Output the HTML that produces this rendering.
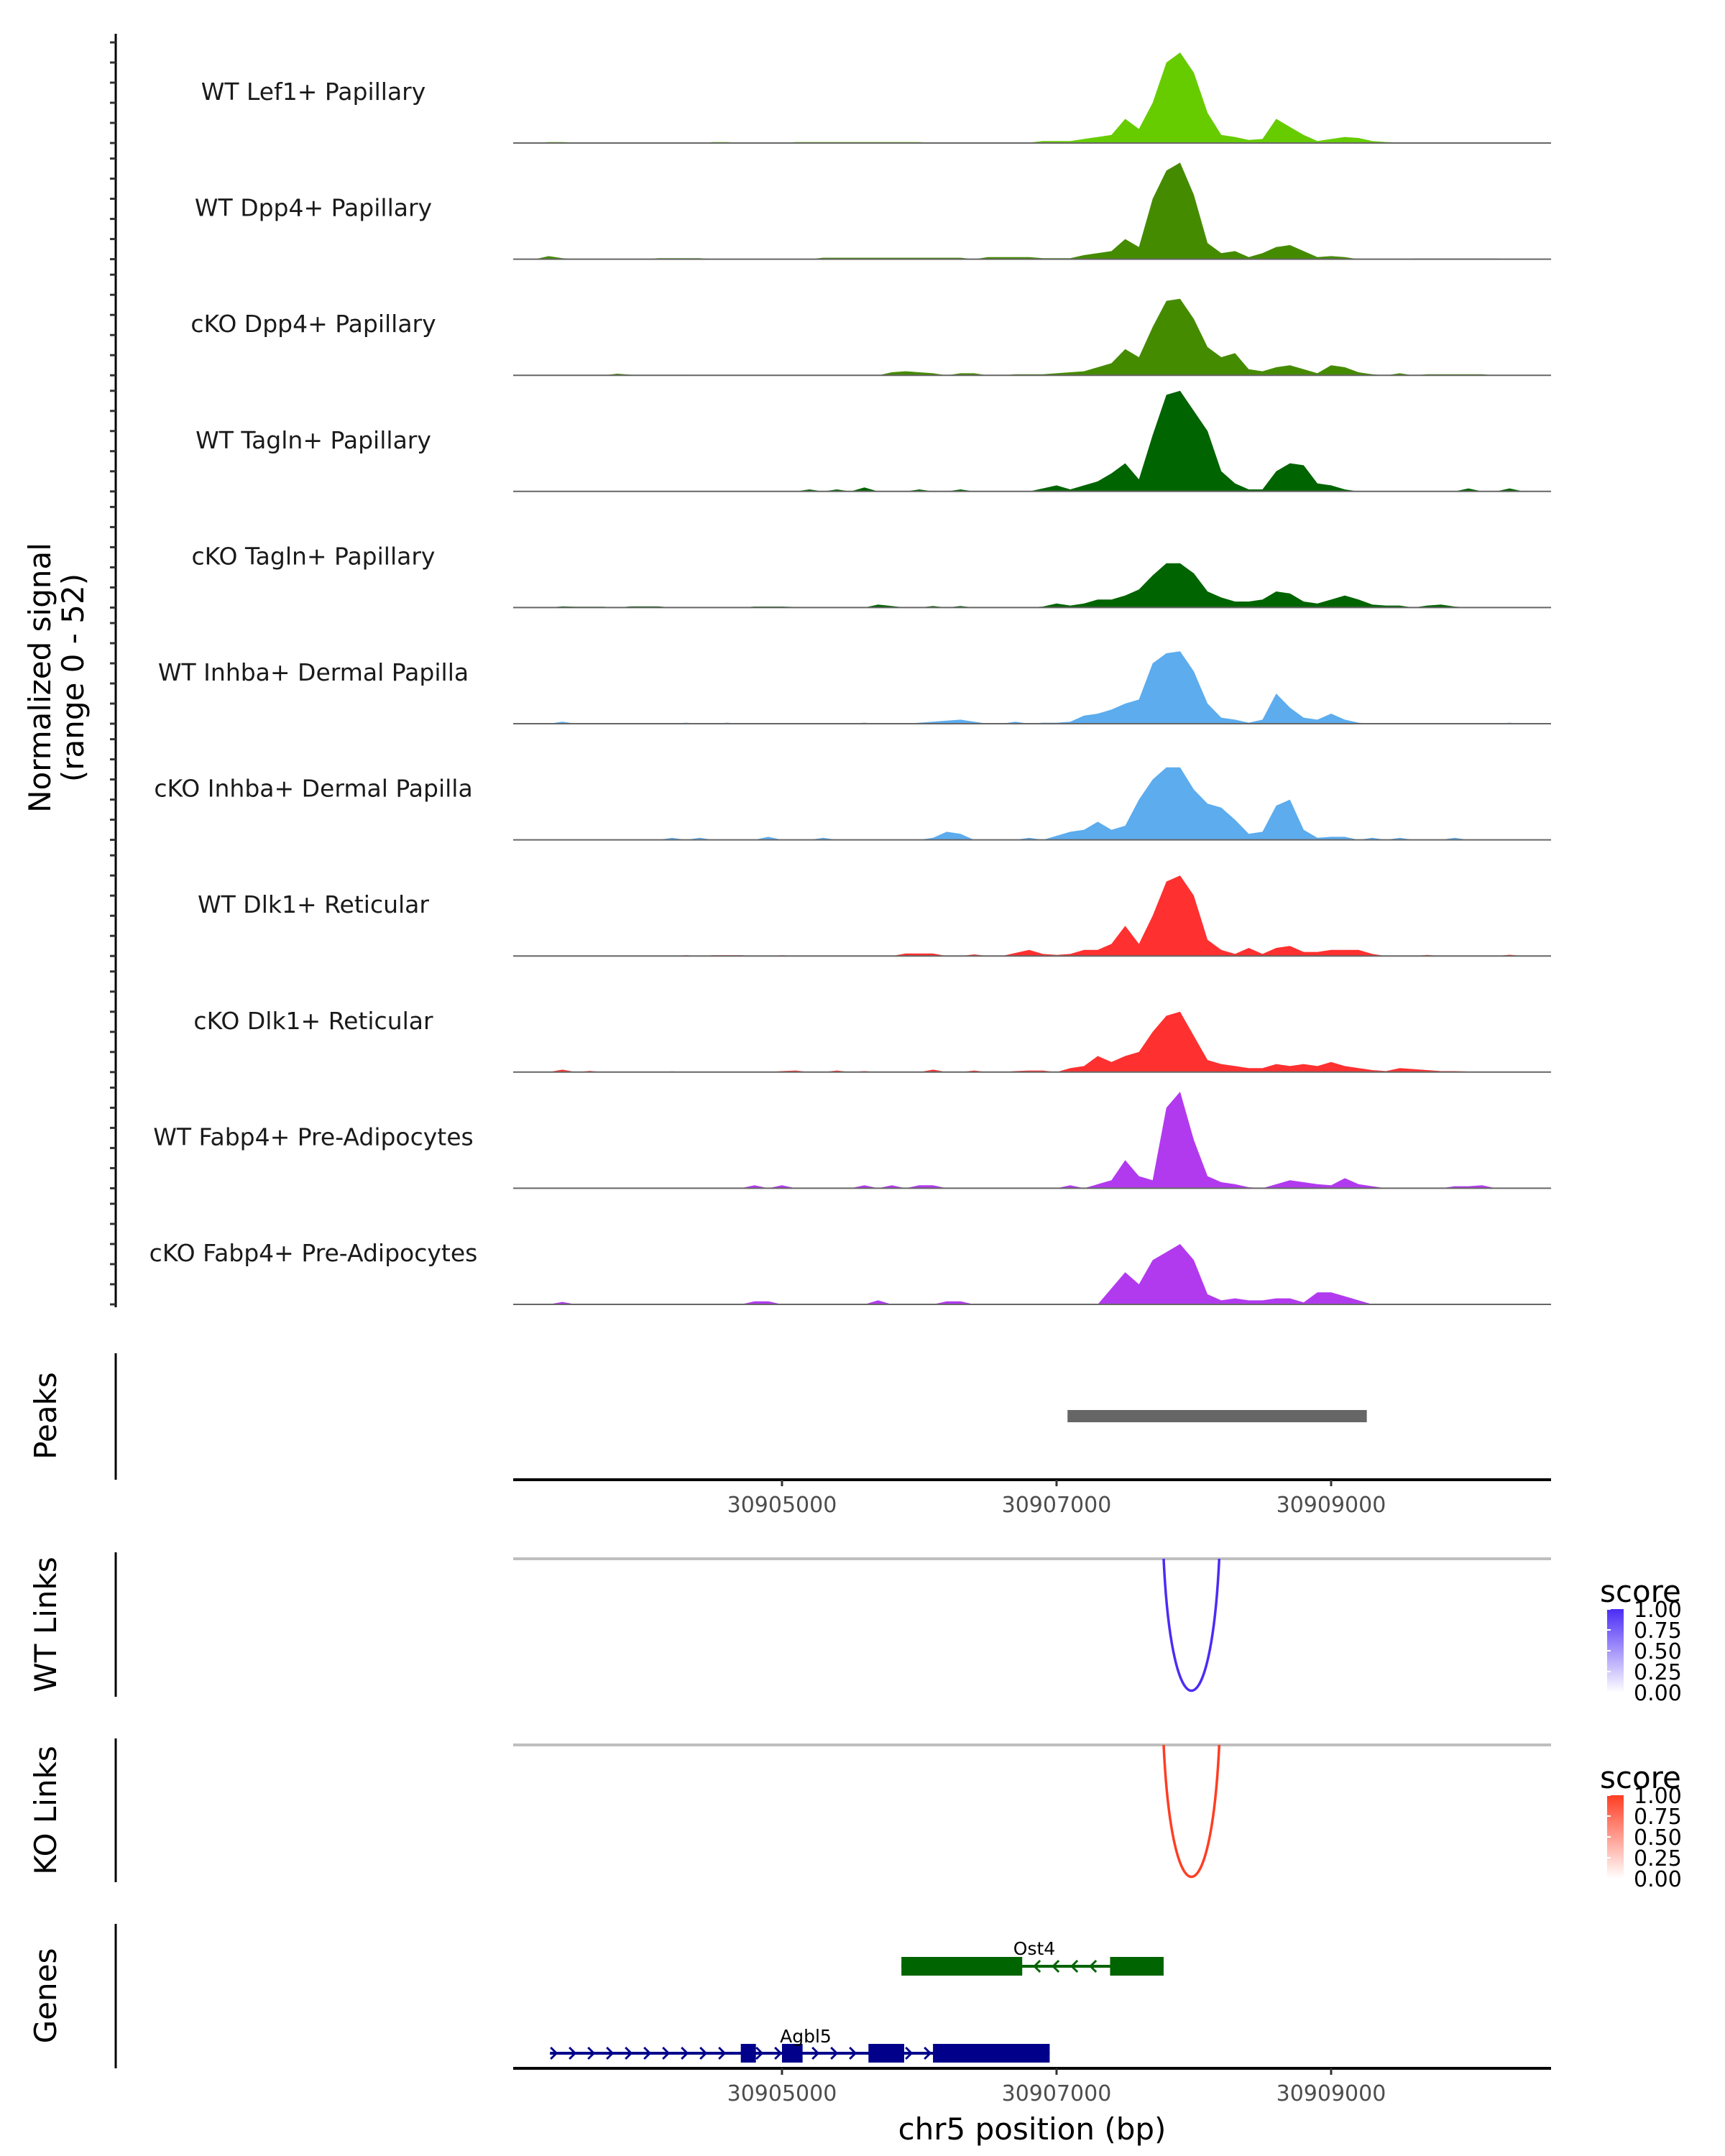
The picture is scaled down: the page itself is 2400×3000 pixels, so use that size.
<!DOCTYPE html>
<html><head><meta charset="utf-8"><style>
html,body{margin:0;padding:0;background:#fff;}
svg{display:block;font-family:"DejaVu Sans","Liberation Sans",sans-serif;}
</style></head><body>
<svg id="chart" width="2400" height="3000" viewBox="0 0 2400 3000" xmlns="http://www.w3.org/2000/svg">
<g id="tracks"></g>
<g id="lower"></g>
</svg>
<script>
// ---- data ----
const binStart = 30903100, binStep = 100;
const trackNames = ["WT Lef1+ Papillary","WT Dpp4+ Papillary","cKO Dpp4+ Papillary","WT Tagln+ Papillary","cKO Tagln+ Papillary","WT Inhba+ Dermal Papilla","cKO Inhba+ Dermal Papilla","WT Dlk1+ Reticular","cKO Dlk1+ Reticular","WT Fabp4+ Pre-Adipocytes","cKO Fabp4+ Pre-Adipocytes"];
const trackColors = ["#66cc00","#458b00","#458b00","#006400","#006400","#5cacee","#5cacee","#ff3030","#ff3030","#b23aee","#b23aee"];
const wtLef1 = [0,0,0.5,0.5,0.2,0.2,0.2,0.2,0.2,0.2, 0.2,0.2,0,0,0.5,0.5,0,0,0,0, 0.5,0.5,0.5,0.5,0.5,0.5,0.5,0.5,0.5,0.5, 0,0.2,0.2,0.2,0.2,0.2,0.2,0.2,1,1, 1,2,3,4,12,7,20,40,45,35, 15,4,3,1.5,2,12,8,4,1,2, 3,2.5,1,0.5,0.3,0.3,0.3,0.3,0.3,0.3, 0.3,0,0,0,0];
const wtDpp4 = [0,0,1.5,0.5,0,0,0,0,0,0, 0.5,0.5,0.5,0.5,0,0,0,0,0,0, 0,0,0.7,0.7,0.7,0.7,0.7,0.7,0.7,0.7, 0.7,0.7,0.7,0,1,1,1,1,0.5,0.5, 0.5,2,3,4,10,6,30,44,48,32, 8,3,4,1,3,6,7,4,1,1.5, 1,0,0,0,0,0.3,0.3,0.3,0.3,0.3, 0.3,0.3,0,0,0];
const koDpp4 = [0,0,0,0,0,0,0,0.8,0.3,0, 0,0,0.3,0,0,0,0,0,0,0, 0,0,0,0,0,0,0,1.5,2,1.5, 1,0,1,1,0,0,0.5,0.5,0.5,1, 1.5,2,4,6,13,9,24,37,38,28, 14,9,11,3,2,4,5,3,1,5, 4,1.5,0.5,0,1,0,0.5,0.5,0.5,0.5, 0.5,0,0,0,0];
const wtTagln = [0,0,0,0,0,0,0,0,0,0, 0,0,0,0,0,0,0,0,0,0, 0,1,0,1,0,2,0,0,0,1, 0,0,1,0,0,0,0,0,1.5,3, 1,3,5,9,14,6,28,48,50,40, 30,10,4,1,1,10,14,13,4,3, 1,0,0,0,0,0,0,0,0,1.5, 0,0,1.5,0,0];
const koTagln = [0,0,0,0.6,0.4,0.4,0.4,0,0.6,0.6, 0.6,0,0,0,0,0,0,0.5,0.5,0.5, 0.3,0.3,0,0,0,0,1.5,0.8,0,0, 0.8,0,0.8,0,0,0,0,0,0.5,2, 1,2,4,4,6,9,16,22,22,17, 8,5,3,3,4,8,7,3,2,4, 6,4,1.5,1,1,0,1,1.5,0.5,0, 0,0,0,0,0];
const wtInhba = [0,0,0,1,0,0,0,0,0,0, 0,0,0.5,0,0,0.5,0,0,0,0, 0,0,0,0,0,0.5,0,0,0,0.5, 1,1.5,2,1,0,0,1,0,0.5,0.5, 1,4,5,7,10,12,30,35,36,26, 10,3,2,0.5,2,15,8,3,2,5, 2,0.5,0,0,0,0,0,0,0,0, 0,0,0.5,0,0];
const koInhba = [0,0,0,0,0,0,0,0,0,0, 0,1,0,1,0,0,0,0,1.5,0, 0,0,1,0,0,0,0,0,0,0, 1,4,3,0,0,0,0,1,0,2, 4,5,9,5,7,20,30,36,36,25, 18,16,10,3,4,17,20,5,1,1.5, 1.5,0,1,0,1,0,0,0,1,0, 0,0,0,0,0];
const wtDlk1 = [0,0,0,0,0,0,0,0,0,0, 0,0,0.4,0,0.4,0.4,0.4,0,0,0.4, 0,0,0,0,0,0,0,0,1.2,1.2, 1.2,0,0,0.8,0,0,1.5,3,1,0.5, 1,3,3,6,15,6,20,37,40,30, 8,3,1,4,1,4,5,2,2,3, 3,3,1,0,0,0,0.5,0,0,0, 0,0,0.6,0,0];
const koDlk1 = [0,0,0,1.2,0,0.6,0,0,0,0, 0,0.4,0,0,0.3,0,0,0,0,0.5, 0.8,0,0,0.8,0,0.5,0,0,0,0, 1.2,0,0,0.8,0,0,0.5,0.8,0.8,0, 2,3,8,5,8,10,20,28,30,18, 6,4,3,2,2,4,3,4,3,5, 3,2,1,0.5,2,1.5,1,0.5,0.5,0.3, 0,0,0,0,0];
const wtFabp4 = [0,0,0,0,0,0,0,0,0,0, 0,0,0,0,0,0,0,1.5,0,1.5, 0,0,0,0,0,1.5,0,1.5,0,1.5, 1.5,0,0,0,0,0,0,0,0,0, 1.5,0,2,4,14,6,4,40,48,24, 6,3,2,0.5,0,2,4,3,2,1.5, 5,2,1,0,0,0,0,0,1,1, 1.5,0,0,0,0];
const koFabp4 = [0,0,0,1.2,0,0,0,0,0,0, 0,0,0,0,0,0,0,1.5,1.5,0, 0,0,0,0,0,0,2,0,0,0, 0,1.5,1.5,0,0,0,0,0,0,0, 0,0,0,8,16,10,22,26,30,22, 5,2,3,2,2,3,3,1,6,6, 4,2,0,0,0,0,0,0,0,0, 0,0,0,0,0];
const trackValues = [wtLef1,wtDpp4,koDpp4,wtTagln,koTagln,wtInhba,koInhba,wtDlk1,koDlk1,wtFabp4,koFabp4];
const yTickValues = [0,10,20,30,40,50];
const xTicks = [30905000,30907000,30909000];
const peakStarts = [30907080];
const peakEnds = [30909260];
const wtLinkStart = [30907780], wtLinkEnd = [30908185], wtLinkScore = [0.85];
const koLinkStart = [30907780], koLinkEnd = [30908185], koLinkScore = [0.85];
const legendTicks = ["1.00","0.75","0.50","0.25","0.00"];
const ost4Exons = [[30905870,30906750],[30907390,30907780]];
const ost4Span = [30905870,30907780];
const agbl5Exons = [[30904700,30904810],[30905000,30905150],[30905630,30905890],[30906100,30906950]];
const agbl5Span = [30903310,30906950];

// ---- scales ----
const X0 = 714, X1 = 2158, BP0 = 30903042, PXPERBP = 0.191;
const xs = bp => X0 + (bp - BP0) * PXPERBP;
const base0 = 199, trackGap = 161.6, unitPx = 2.8;
const NS = "http://www.w3.org/2000/svg";
function mk(tag, attrs, parent){ const e=document.createElementNS(NS,tag); for(const k in attrs) e.setAttribute(k,attrs[k]); parent.appendChild(e); return e; }
const T = document.getElementById('tracks');
const L = document.getElementById('lower');

// left axis
let ax = mk('line',{x1:161,y1:47,x2:161,y2:1819,stroke:'#000','stroke-width':3},T);


let yt = mk('text',{x:0,y:0,transform:'translate(78,943) rotate(-90)','text-anchor':'middle','font-size':42,fill:'#000'},T);


mk('tspan',{x:0,dy:-8},yt).textContent='Normalized signal';
mk('tspan',{x:0,dy:46},yt).textContent='(range 0 - 52)';

trackNames.forEach((name, t) => {
  const base = base0 + trackGap * t;
  const g = mk('g',{},T);
  
  
  yTickValues.forEach(v => {
    const tk = mk('line',{x1:153,x2:161,y1:base - v*unitPx,y2:base - v*unitPx,stroke:'#333','stroke-width':3},g);
    
    
  });
  const vals = trackValues[t];
  let d = 'M' + X0 + ',' + base;
  vals.forEach((v, i) => {
    const bp = binStart + binStep * i;
    d += ' L' + xs(bp).toFixed(1) + ',' + (base - Math.min(v,52)*unitPx).toFixed(1);
  });
  d += ' L' + X1 + ',' + base + ' Z';
  const area = mk('path',{d:d,fill:trackColors[t],stroke:'none'},g);
  
  
  const bl = mk('line',{x1:X0,x2:X1,y1:base,y2:base,stroke:'#666','stroke-width':2},g);
  
  
  const lbl = mk('text',{x:436,y:base-60,'text-anchor':'middle','font-size':33,fill:'#1a1a1a'},g);
  
  
  lbl.textContent = name;
});

function panelTitle(txt, cy, name){
  const e = mk('text',{x:0,y:0,transform:'translate(78,'+cy+') rotate(-90)','text-anchor':'middle','font-size':42,fill:'#000'},L);
  
  
  e.textContent = txt;
}
function vline(y1,y2,name){
  const e = mk('line',{x1:161,x2:161,y1:y1,y2:y2,stroke:'#000','stroke-width':3},L);
  
  
}
function xAxis(y, name){
  const g = mk('g',{},L);
  
  
  mk('line',{x1:X0,x2:X1,y1:y,y2:y,stroke:'#000','stroke-width':4},g);
  xTicks.forEach(v => {
    mk('line',{x1:xs(v),x2:xs(v),y1:y,y2:y+9,stroke:'#333','stroke-width':3},g);
    const tl = mk('text',{x:xs(v),y:y+45,'text-anchor':'middle','font-size':30,fill:'#4d4d4d'},g);
    
    
    tl.textContent = v;
  });
}

// Peaks
vline(1883,2059,'peaks-axis-line');
panelTitle('Peaks',1970,'peaks-title');
peakStarts.forEach((s,i) => {
  const r = mk('rect',{x:xs(s),y:1962,width:xs(peakEnds[i])-xs(s),height:17,fill:'#666'},L);
  
  
});
xAxis(2059,'peaks-x-axis');

// Links
function linkPanel(top, bottom, lineY, starts, ends, scores, color, light, title, nm){
  vline(top,bottom,nm+'-axis-line');
  panelTitle(title,(top+bottom)/2,nm+'-title');
  mk('line',{x1:X0,x2:X1,y1:lineY,y2:lineY,stroke:'#bebebe','stroke-width':4},L);
  starts.forEach((s,i) => {
    const a = xs(s), b = xs(ends[i]), depth = 184/0.85*scores[i];
    const p = mk('path',{d:'M'+a+','+lineY+' C'+(a+ (b-a)*0.15)+','+(lineY+depth*1.33)+' '+(b-(b-a)*0.15)+','+(lineY+depth*1.33)+' '+b+','+lineY,fill:'none',stroke:color,'stroke-width':3.5},L);
    
    
  });
  const lg = mk('g',{},L);
  
  
  const gid = nm+'grad';
  const defs = mk('defs',{},lg);
  const gr = mk('linearGradient',{id:gid,x1:0,y1:0,x2:0,y2:1},defs);
  mk('stop',{offset:0,'stop-color':color},gr);
  mk('stop',{offset:1,'stop-color':'#ffffff'},gr);
  const ly = lineY + 66;
  const st = mk('text',{x:2226,y:ly-6,'font-size':42,fill:'#000'},lg);
  st.textContent='score';
  mk('rect',{x:2236,y:ly+4,width:23,height:116,fill:'url(#'+gid+')'},lg);
  legendTicks.forEach((t,i)=>{
    const yy = ly+4+ i*29;
    mk('line',{x1:2236,x2:2241,y1:yy,y2:yy,stroke:'#fff','stroke-width':2},lg);
    const tt = mk('text',{x:2273,y:yy+11,'font-size':30,fill:'#000'},lg);
    tt.textContent = t;
  });
}
linkPanel(2160,2361,2169,wtLinkStart,wtLinkEnd,wtLinkScore,'#4b2cf5','#fff','WT Links','wt-links');
linkPanel(2419,2619,2428,koLinkStart,koLinkEnd,koLinkScore,'#ff3d24','#fff','KO Links','ko-links');

// Genes
vline(2677,2878,'genes-axis-line');
panelTitle('Genes',2777,'genes-title');
function gene(span, exons, cy, h, color, dir, label, lx, ly, nm){
  const g = mk('g',{},L);
  
  
  mk('line',{x1:xs(span[0]),x2:xs(span[1]),y1:cy,y2:cy,stroke:color,'stroke-width':4},g);
  for(let x = xs(span[0])+6; x < xs(span[1]); x += 26){
    const inEx = exons.some(e => x > xs(e[0])-4 && x < xs(e[1])+4);
    if(inEx) continue;
    const pts = dir>0 ? (x-5)+','+(cy-8)+' '+(x+3)+','+cy+' '+(x-5)+','+(cy+8) : (x+5)+','+(cy-8)+' '+(x-3)+','+cy+' '+(x+5)+','+(cy+8);
    mk('polyline',{points:pts,fill:'none',stroke:color,'stroke-width':3},g);
  }
  exons.forEach(e => mk('rect',{x:xs(e[0]),y:cy-h/2,width:xs(e[1])-xs(e[0]),height:h,fill:color},g));
  const t = mk('text',{x:lx,y:ly,'text-anchor':'middle','font-size':25,fill:'#000'},g);
  
  
  t.textContent = label;
}
gene(ost4Span, ost4Exons, 2736, 26, '#006400', -1, 'Ost4', 1439, 2720, 'gene-ost4');
gene(agbl5Span, agbl5Exons, 2857, 26, '#00008b', 1, 'Agbl5', 1121, 2842, 'gene-agbl5');
xAxis(2878,'genes-x-axis');
const xt = mk('text',{x:1436,y:2977,'text-anchor':'middle','font-size':42,fill:'#000'},L);


xt.textContent = 'chr5 position (bp)';
</script>
</body></html>
